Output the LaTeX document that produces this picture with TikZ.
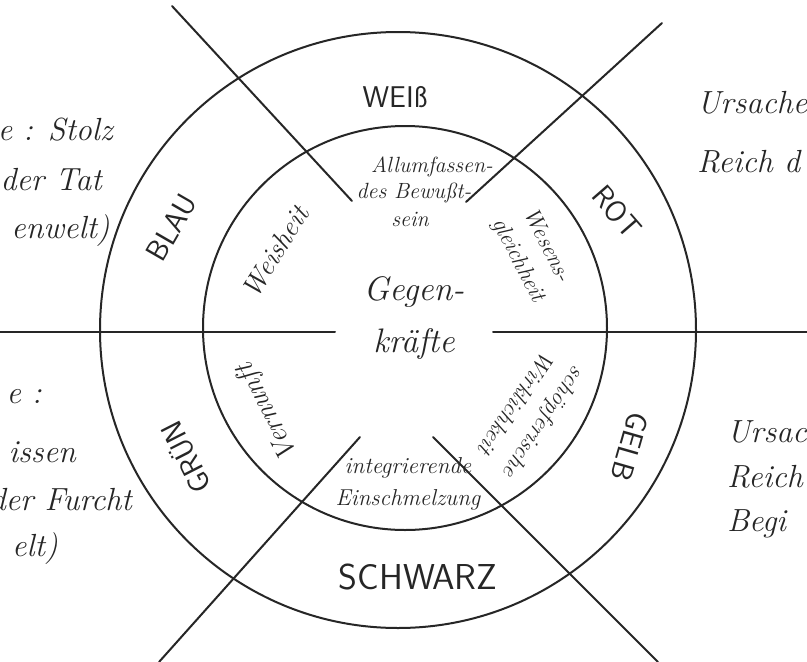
\documentclass[tikz,border=0pt]{standalone}
\usepackage{fontspec}
\begin{document}
\begin{tikzpicture}[x=1pt,y=-1pt,
  ln/.style={line width=2pt, line cap=round, draw=black!85},
  caps/.style={font=\sffamily\fontsize{30}{30}\selectfont, inner sep=0pt, text=black!85},
  hand/.style={font=\itshape\fontsize{22}{30}\selectfont, inner sep=0pt, align=center, text=black!85},
  side/.style={font=\itshape\fontsize{32}{32}\selectfont, inner sep=0pt, text=black!85},
]
\useasboundingbox (0,0) rectangle (807,662);
\clip (0,0) rectangle (807,662);
\fill[white] (0,0) rectangle (807,662);
% centres
\coordinate (oc) at (398,330);
\coordinate (ic) at (405,328);
\draw[ln] (oc) circle[radius=298pt];
\draw[ln] (ic) circle[radius=202pt];
% horizontal lines
\coordinate (hl1) at (0,332); \coordinate (hl2) at (335,332);
\coordinate (hr1) at (493,332); \coordinate (hr2) at (807,332);
\draw[ln] (hl1) -- (hl2);
\draw[ln] (hr1) -- (hr2);
% diagonals
\coordinate (tl1) at (172,6);   \coordinate (tl2) at (352,201);
\coordinate (tr1) at (662,23);  \coordinate (tr2) at (466,202);
\coordinate (bl1) at (159,662); \coordinate (bl2) at (360,437);
\coordinate (br1) at (658,662); \coordinate (br2) at (433,437);
\draw[ln] (tl1) -- (tl2);
\draw[ln] (tr1) -- (tr2);
\draw[ln] (bl1) -- (bl2);
\draw[ln] (br1) -- (br2);
% outer ring
\node[caps] (weiss) at (395,97) {WEIß};
\node[caps, rotate=-49] (rot) at (617,212) {ROT};
\node[caps, rotate=-106] (gelb) at (630,447) {GELB};
\node[caps, font=\sffamily\fontsize{36}{36}\selectfont] (schwarz) at (418,577) {SCHWARZ};
\node[caps, rotate=117] (gruen) at (185,458) {GRÜN};
\node[caps, rotate=60] (blau) at (172,228) {BLAU};
% inner ring
\node[hand] (allum) at (432,167) {Allumfassen-};
\node[hand] (bewusst) at (414,193) {des Bewußt-};
\node[hand] (sein) at (410,219) {sein};
\node[hand, font=\itshape\fontsize{23}{32}\selectfont, rotate=-63] (wesen) at (532,253) {Wesens-\\gleichheit};
\node[hand, font=\itshape\fontsize{28}{28}\selectfont, rotate=58] (weisheit) at (275,252) {Weisheit};
\node[hand, font=\itshape\fontsize{28}{28}\selectfont, rotate=117] (vernunft) at (268,412) {Vernunft};
\node[hand, font=\itshape\fontsize{23}{32}\selectfont] (integ) at (408,484) {integrierende\\Einschmelzung};
\node[hand, font=\itshape\fontsize{23}{34}\selectfont, rotate=-124] (schoepf) at (531,413) {schöpferische\\Wirklichkeit};
\node[hand, font=\itshape\fontsize{34}{52}\selectfont] (gegen) at (414,318) {Gegen-\\kräfte};
% outside texts
\node[side, anchor=base east] (l1) at (113,140) {e : Stolz};
\node[side, anchor=base east] (l2) at (102,190) {der Tat};
\node[side, anchor=base east] (l3) at (110,238) {enwelt)};
\node[side, anchor=base east] (l4) at (42,403) {e :};
\node[side, anchor=base east] (l5) at (76,462) {issen};
\node[side, anchor=base east] (l6) at (132,510) {der Furcht};
\node[side, anchor=base east] (l7) at (58,556) {elt)};
\node[side, anchor=base west] (r1) at (697,113) {Ursache};
\node[side, anchor=base west] (r2) at (697,172) {Reich d};
\node[side, anchor=base west] (r3) at (727,442) {Ursac};
\node[side, anchor=base west] (r4) at (727,487) {Reich};
\node[side, anchor=base west] (r5) at (727,531) {Begi};
\end{tikzpicture}
\end{document}
